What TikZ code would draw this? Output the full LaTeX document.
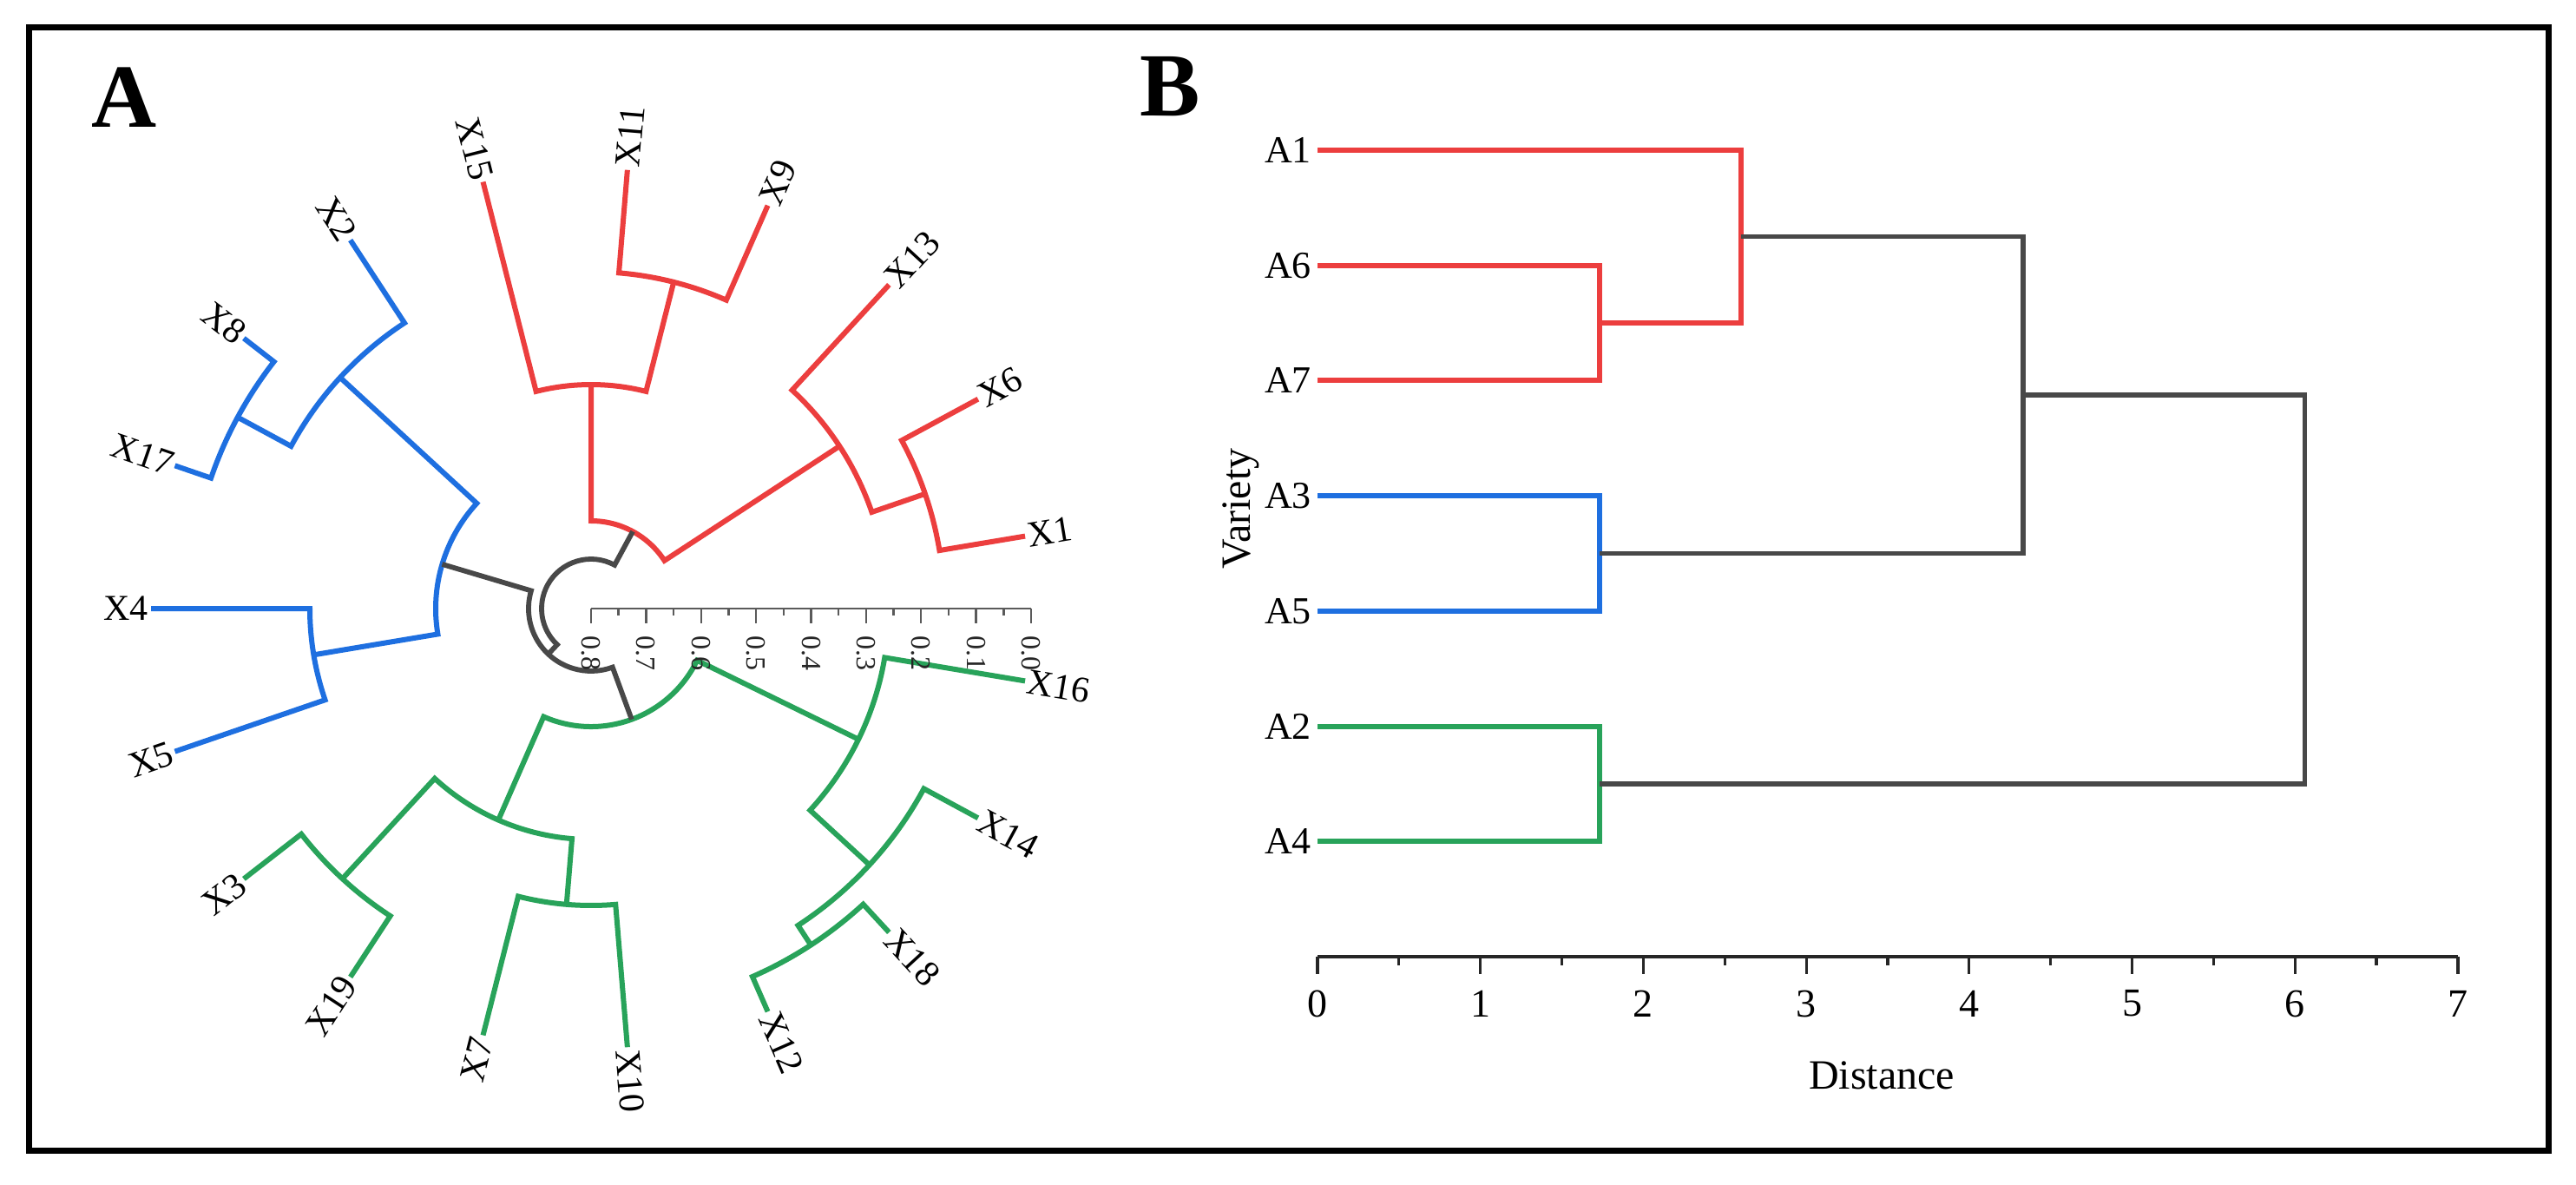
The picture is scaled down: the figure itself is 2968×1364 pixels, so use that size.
\documentclass[tikz,border=0pt]{standalone}
\usepackage{fontspec}
\setmainfont{Liberation Serif}
\definecolor{cred}{RGB}{236,62,62}
\definecolor{cblue}{RGB}{30,111,224}
\definecolor{cgreen}{RGB}{40,163,90}
\definecolor{cdark}{RGB}{72,72,72}
\definecolor{caxis}{RGB}{90,90,90}
\newcommand{\myclade}[6]{%
  \draw[#1] (#2:#3) -- (#2:#6) arc[start angle=#2, end angle=#4, radius=#6] -- (#4:#5);}
\tikzset{
  redl/.style={draw=cred, line width=1.5pt, line join=miter},
  bluel/.style={draw=cblue, line width=1.5pt, line join=miter},
  greenl/.style={draw=cgreen, line width=1.5pt, line join=miter},
  darkl/.style={draw=cdark, line width=1.45pt, line join=miter},
  leafA/.style={font=\fontsize{10.5}{12}\selectfont, inner sep=0.6pt},
  leafB/.style={font=\fontsize{11}{13}\selectfont, inner sep=0.6pt, anchor=east},
  scalelab/.style={font=\fontsize{8}{9}\selectfont, inner sep=0pt, rotate=-90, anchor=west, text=black!85},
  ticklab/.style={font=\fontsize{11.5}{13}\selectfont, inner sep=0pt},
  axlab/.style={font=\fontsize{12}{14}\selectfont, inner sep=0pt},
  panel/.style={font=\fontsize{26}{28}\selectfont\bfseries, inner sep=0pt},
}
\begin{document}
\begin{tikzpicture}[x=0.25pt,y=0.25pt]
\useasboundingbox (0,0) rectangle (2968,1364);
\fill[white] (0,0) rectangle (2968,1364);
% outer frame
\draw[line width=1.75pt] (33,1332) rectangle (2936,39);
\node[panel] (pA) at (143,1252) {A};
\node[panel] (pB) at (1348,1264) {B};

% ---------------- Panel A ----------------
\begin{scope}[shift={(681,663)}]
  % leaf tips
  \foreach \n/\a in {X1/9.47,X6/28.42,X13/47.37,X9/66.32,X11/85.26,X15/104.21,X2/123.16,X8/142.11,X17/161.05,X4/180,X5/198.95,X3/217.89,X19/236.84,X7/255.79,X10/274.74,X12/293.68,X18/312.63,X14/331.58,X16/350.53}
    \coordinate (t\n) at (\a:507);
  % internal nodes
  \coordinate (nRoot) at (144.18:57);
  \coordinate (nBG) at (226.78:72);
  \coordinate (nRed) at (61.58:101);
  \coordinate (nBlue) at (163.42:179);
  \coordinate (nGreen) at (290.13:136);
  % red clade
  \myclade{redl}{9.47}{507}{28.42}{507}{407}
  \myclade{redl}{18.95}{407}{47.37}{507}{342}
  \myclade{redl}{66.32}{507}{85.26}{507}{388}
  \myclade{redl}{75.79}{388}{104.21}{507}{258}
  \myclade{redl}{33.16}{342}{90}{258}{101}
  % blue clade
  \myclade{bluel}{142.11}{507}{161.05}{507}{463}
  \myclade{bluel}{123.16}{507}{151.58}{463}{393}
  \myclade{bluel}{180}{507}{198.95}{507}{324}
  \myclade{bluel}{137.37}{393}{189.47}{324}{179}
  % green clade
  \myclade{greenl}{217.89}{507}{236.84}{507}{423}
  \myclade{greenl}{255.79}{507}{274.74}{507}{342}
  \myclade{greenl}{227.37}{423}{265.26}{342}{266}
  \myclade{greenl}{293.68}{507}{312.63}{507}{463}
  \myclade{greenl}{303.16}{463}{331.58}{507}{436}
  \myclade{greenl}{317.37}{436}{350.53}{507}{343}
  \myclade{greenl}{246.32}{266}{333.95}{343}{136}
  % backbone
  \myclade{darkl}{163.42}{179}{290.13}{136}{72}
  \myclade{darkl}{61.58}{101}{226.78}{72}{57}
  % scale axis
  \draw[caxis, line width=0.6pt] (0,0) -- (507,0);
  \foreach \i in {0,...,8} {
    \draw[caxis, line width=0.6pt] ({507*\i/8},0) -- ({507*\i/8},-17);
  }
  \foreach \i in {0,...,7} {
    \draw[caxis, line width=0.6pt] ({507*(\i+0.5)/8},0) -- ({507*(\i+0.5)/8},-8);
  }
  \foreach \i/\t in {0/0.8,1/0.7,2/0.6,3/0.5,4/0.4,5/0.3,6/0.2,7/0.1,8/0.0}
    \node[scalelab] (s\i) at ({507*\i/8},-31) {\t};
  % leaf labels, right half
  \foreach \n/\a in {X1/9.47,X6/28.42,X13/47.37,X9/66.32,X11/85.26,X10/274.74,X12/293.68,X18/312.63,X14/331.58,X16/350.53}
    \node[leafA, rotate=\a, anchor=west] (l\n) at (t\n) {\n};
  % leaf labels, left half
  \foreach \n/\a in {X15/104.21,X2/123.16,X8/142.11,X17/161.05,X4/180,X5/198.95,X3/217.89,X19/236.84,X7/255.79}
    \node[leafA, rotate=\a-180, anchor=east] (l\n) at (t\n) {\n};
\end{scope}

% ---------------- Panel B ----------------
\coordinate (bA1) at (1518,1191);
\coordinate (bA6) at (1518,1058);
\coordinate (bA7) at (1518,926);
\coordinate (bA3) at (1518,793);
\coordinate (bA5) at (1518,660);
\coordinate (bA2) at (1518,527.5);
\coordinate (bA4) at (1518,395);
\coordinate (k67) at (1842.7,992);
\coordinate (k167) at (2006,1091.5);
\coordinate (k35) at (1842.7,726.5);
\coordinate (k24) at (1842.7,461);
\coordinate (kRB) at (2330.7,909);
\coordinate (kroot) at (2655.5,682);

\draw[redl] (bA6) -| (k67) |- (bA7);
\draw[redl] (k67) -| (k167) |- (bA1);
\draw[bluel] (bA3) -| (k35) |- (bA5);
\draw[greenl] (bA2) -| (k24) |- (bA4);
\draw[darkl] (k167) -| (kRB) |- (k35);
\draw[darkl] (kRB) -| (kroot) |- (k24);

\foreach \n in {A1,A6,A7,A3,A5,A2,A4}
  \node[leafB] (lab\n) at ([xshift=-1]b\n) {\n};

% distance axis
\draw[black!85, line width=0.8pt] (1518,262) -- (2832,262);
\foreach \i in {0,...,7} {
  \draw[black!85, line width=0.8pt] ({1518+187.7*\i},262) -- ({1518+187.7*\i},242);
  \node[ticklab] (d\i) at ({1518+187.7*\i},208) {\i};
}
\foreach \i in {0,...,6}
  \draw[black!85, line width=0.8pt] ({1518+187.7*(\i+0.5)},262) -- ({1518+187.7*(\i+0.5)},252);
\node[axlab] (xlab) at (2168,125) {Distance};
\node[axlab, rotate=90] (ylab) at (1430,778) {Variety};
\end{tikzpicture}
\end{document}
